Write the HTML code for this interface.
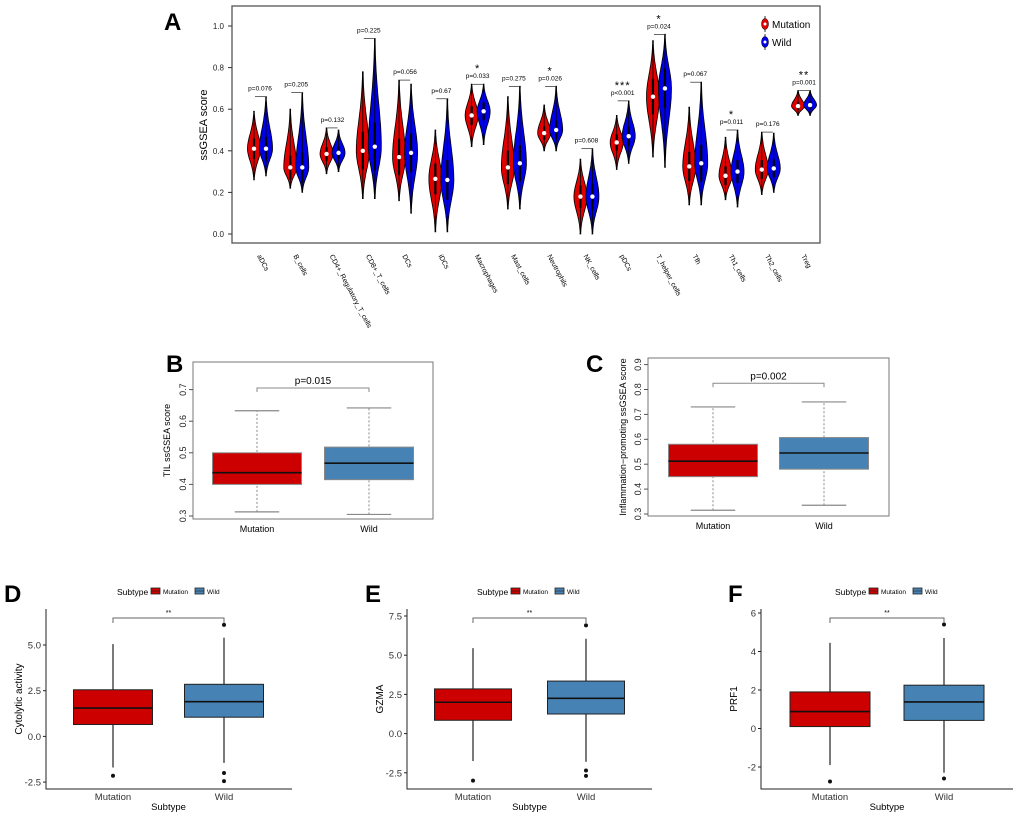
<!DOCTYPE html>
<html><head><meta charset="utf-8"><style>
body{margin:0;background:#fff}
svg{display:block;font-family:"Liberation Sans",Arial,sans-serif}
</style></head><body>
<svg id="fig" width="1020" height="816" viewBox="0 0 1020 816"></svg>
<script>
// ---------- Panel A data ----------
const cellTypes=["aDCs","B_cells","CD4+_Regulatory_T_cells","CD8+_T_cells","DCs","iDCs","Macrophages","Mast_cells","Neutrophils","NK_cells","pDCs","T_helper_cells","Tfh","Th1_cells","Th2_cells","Treg"];
const mutMin=[0.26,0.22,0.29,0.17,0.16,0.01,0.42,0.12,0.40,0.00,0.31,0.37,0.14,0.165,0.19,0.57];
const mutMax=[0.59,0.60,0.51,0.78,0.74,0.50,0.72,0.66,0.62,0.36,0.57,0.93,0.61,0.465,0.49,0.69];
const mutMed=[0.41,0.32,0.385,0.40,0.37,0.265,0.57,0.32,0.485,0.18,0.44,0.66,0.325,0.28,0.31,0.615];
const wildMin=[0.28,0.20,0.30,0.17,0.10,0.01,0.43,0.12,0.40,0.00,0.34,0.32,0.14,0.13,0.20,0.57];
const wildMax=[0.66,0.68,0.50,0.94,0.72,0.65,0.72,0.71,0.71,0.41,0.64,0.96,0.73,0.50,0.485,0.69];
const wildMed=[0.41,0.32,0.39,0.42,0.39,0.26,0.59,0.34,0.50,0.18,0.47,0.70,0.34,0.30,0.315,0.62];
const pLabels=["p=0.076","p=0.205","p=0.132","p=0.225","p=0.056","p=0.67","p=0.033","p=0.275","p=0.026","p=0.608","p<0.001","p=0.024","p=0.067","p=0.011","p=0.176","p=0.001"];
const sigStars=["","","","","","","*","","*","","***","*","","*","","**"];
const aTicks=[0,0.2,0.4,0.6,0.8,1.0];
// ---------- Panel B/C data ----------
const groups=["Mutation","Wild"];
const bStats=[[0.313,0.40,0.437,0.50,0.633],[0.305,0.415,0.467,0.518,0.642]];
const cStats=[[0.315,0.45,0.512,0.58,0.73],[0.335,0.48,0.545,0.607,0.75]];
const bTicks=[0.3,0.4,0.5,0.6,0.7];
const cTicks=[0.3,0.4,0.5,0.6,0.7,0.8,0.9];
// ---------- Panel D/E/F data ----------
const dStats=[[-1.7,0.65,1.55,2.55,5.05],[-1.45,1.05,1.9,2.85,5.4]];
const dOut=[[-2.15],[6.1,-2.0,-2.45]];
const eStats=[[-1.75,0.85,2.0,2.85,5.45],[-1.8,1.25,2.25,3.35,6.05]];
const eOut=[[-3.0],[6.9,-2.35,-2.7]];
const fStats=[[-1.9,0.1,0.88,1.9,4.45],[-2.3,0.42,1.38,2.25,4.7]];
const fOut=[[-2.75],[5.4,-2.6]];
const dTicks=[-2.5,0,2.5,5];const dTickLab=["-2.5","0.0","2.5","5.0"];
const eTicks=[-2.5,0,2.5,5,7.5];const eTickLab=["-2.5","0.0","2.5","5.0","7.5"];
const fTicks=[-2,0,2,4,6];const fTickLab=["-2","0","2","4","6"];

const NS="http://www.w3.org/2000/svg";const svg=document.getElementById('fig');
function mk(tag,attrs,parent,txt){const e=document.createElementNS(NS,tag);for(const k in attrs)e.setAttribute(k,attrs[k]);if(txt!==undefined)e.textContent=txt;(parent||svg).appendChild(e);return e;}
function lbl(t,x,y){const e=mk('text',{x:x,y:y,'font-size':24,'font-weight':'bold'},svg,t);}
const RED="#e00000",BLUE="#0000e6";

// ================= Panel A =================
lbl('A',164,30);
const aY=v=>234-v*208;const aX=i=>260+i*36.27;
let f=mk('rect',{x:232,y:6,width:588,height:237,fill:'none',stroke:'#555','stroke-width':1.3});

aTicks.forEach(t=>{const l=mk('line',{x1:228,x2:232,y1:aY(t),y2:aY(t),stroke:'#333'});
const tx=mk('text',{x:224,y:aY(t)+3,'font-size':8,'text-anchor':'end',fill:'#222'},svg,t.toFixed(1));});
let yl=mk('text',{x:0,y:0,'font-size':11,'text-anchor':'middle',transform:'translate(207,125) rotate(-90)'},svg,'ssGSEA score');
function violin(cx,mn,mx,md,col,name){
  const hw=6.5,pts=[],N=24;
  for(let k=0;k<=N;k++){const v=mn+(md-mn)*k/N;const u=k/N;pts.push([v,hw*Math.exp(-3.2*(1-u)*(1-u))]);}
  for(let k=1;k<=N;k++){const v=md+(mx-md)*k/N;const u=1-k/N;pts.push([v,hw*Math.exp(-3.2*(1-u)*(1-u))]);}
  pts[0][1]=0.4;pts[pts.length-1][1]=0.4;
  let d='M'+pts.map(p=>(cx+p[1]).toFixed(1)+','+aY(p[0]).toFixed(1)).join('L');
  d+='L'+pts.slice().reverse().map(p=>(cx-p[1]).toFixed(1)+','+aY(p[0]).toFixed(1)).join('L')+'Z';
  const p=mk('path',{d:d,fill:col,stroke:'#000','stroke-width':0.8});
  const l=mk('line',{x1:cx,x2:cx,y1:aY(mn),y2:aY(mx),stroke:'#000','stroke-width':0.8});
  const q=(mx-mn)*0.15;const b=mk('line',{x1:cx,x2:cx,y1:aY(md-q),y2:aY(md+q),stroke:'#000','stroke-width':2.2});
  const c=mk('circle',{cx:cx,cy:aY(md),r:2.2,fill:'#fff'});
}
cellTypes.forEach((ct,i)=>{
  const cx=aX(i);
  violin(cx-6,mutMin[i],mutMax[i],mutMed[i],RED,'violin-mutation-'+ct);
  violin(cx+6,wildMin[i],wildMax[i],wildMed[i],BLUE,'violin-wild-'+ct);
  const top=aY(Math.max(mutMax[i],wildMax[i]));
  const br=mk('line',{x1:cx-5,x2:cx+5,y1:top,y2:top,stroke:'#000','stroke-width':0.6});
  const pt=mk('text',{x:cx,y:top-6,'font-size':6.5,'text-anchor':'middle'},svg,pLabels[i]);
  if(sigStars[i]){const st=mk('text',{x:cx,y:top-12,'font-size':11,'text-anchor':'middle','letter-spacing':1},svg,sigStars[i]);}
  const xl=mk('text',{x:0,y:0,'font-size':7,transform:`translate(${cx-3},256) rotate(62)`},svg,ct);
});
[['Mutation',RED,24],['Wild',BLUE,42]].forEach(([t,c,y])=>{
  const g=mk('g',{});
  mk('line',{x1:765,x2:765,y1:y-8,y2:y+8,stroke:'#000','stroke-width':0.8},g);
  mk('ellipse',{cx:765,cy:y,rx:3.5,ry:5.5,fill:c,stroke:'#000','stroke-width':0.5},g);
  mk('circle',{cx:765,cy:y,r:1.5,fill:'#fff'},g);
  mk('text',{x:772,y:y+4,'font-size':10},g,t);
});

// ================= Panels B & C =================
function basePanel(o){
  lbl(o.L,o.lx,o.ly);
  const Y=v=>o.y0-(v-o.v0)*o.k;
  const fr=mk('rect',{x:o.fx,y:o.fy,width:o.fw,height:o.fh,fill:'none',stroke:'#777','stroke-width':1});
  o.ticks.forEach(t=>{const l=mk('line',{x1:o.fx-4,x2:o.fx,y1:Y(t),y2:Y(t),stroke:'#555'});
    const tx=mk('text',{x:0,y:0,'font-size':9,'text-anchor':'middle',fill:'#222',transform:`translate(${o.fx-7},${Y(t)}) rotate(-90)`},svg,t.toFixed(1));});
  const yt=mk('text',{x:0,y:0,'font-size':9,'text-anchor':'middle',transform:`translate(${o.ytx},${o.fy+o.fh/2}) rotate(-90)`},svg,o.ytitle);
  o.stats.forEach((s,i)=>{
    const cx=o.cx[i],hw=o.bw/2,col=i?'#4682b4':'#cc0000';
    const g=mk('g',{});
    mk('line',{x1:cx,x2:cx,y1:Y(s[0]),y2:Y(s[4]),stroke:'#888','stroke-dasharray':'2,2'},g);
    mk('line',{x1:cx-hw/2,x2:cx+hw/2,y1:Y(s[0]),y2:Y(s[0]),stroke:'#888','stroke-width':1.2},g);
    mk('line',{x1:cx-hw/2,x2:cx+hw/2,y1:Y(s[4]),y2:Y(s[4]),stroke:'#888','stroke-width':1.2},g);
    mk('rect',{x:cx-hw,y:Y(s[3]),width:o.bw,height:Y(s[1])-Y(s[3]),fill:col,stroke:'#888'},g);
    mk('line',{x1:cx-hw,x2:cx+hw,y1:Y(s[2]),y2:Y(s[2]),stroke:'#111','stroke-width':1.6},g);
    const xt=mk('text',{x:cx,y:o.fy+o.fh+13,'font-size':9,'text-anchor':'middle'},svg,groups[i]);
  });
  const by=Y(o.br);
  const b=mk('path',{d:`M${o.cx[0]},${by+4}V${by}H${o.cx[1]}V${by+4}`,fill:'none',stroke:'#888'});
  const pt=mk('text',{x:(o.cx[0]+o.cx[1])/2,y:by-4,'font-size':10,'text-anchor':'middle'},svg,o.p);
}
basePanel({L:'B',lx:166,ly:372,fx:193,fy:362,fw:240,fh:157,y0:516,v0:0.3,k:316,ticks:bTicks,ytx:170,ytitle:'TIL ssGSEA score',stats:bStats,cx:[257,369],bw:89,br:0.705,p:'p=0.015'});
basePanel({L:'C',lx:586,ly:372,fx:648,fy:358,fw:241,fh:158,y0:514,v0:0.3,k:249,ticks:cTicks,ytx:626,ytitle:'Inflammation\u2212promoting ssGSEA score',stats:cStats,cx:[713,824],bw:89,br:0.825,p:'p=0.002'});

// ================= Panels D, E, F =================
function ggPanel(o){
  lbl(o.L,o.lx,602);
  const Y=v=>o.y0-(v-o.v0)*o.k;
  const ax=mk('path',{d:`M${o.ax},609V789H${o.ar}`,fill:'none',stroke:'#222','stroke-width':1});
  o.ticks.forEach((t,j)=>{const l=mk('line',{x1:o.ax-3,x2:o.ax,y1:Y(t),y2:Y(t),stroke:'#222'});
    const tx=mk('text',{x:o.ax-5,y:Y(t)+3.5,'font-size':9.5,'text-anchor':'end',fill:'#333'},svg,o.tlab[j]);});
  const yt=mk('text',{x:0,y:0,'font-size':10,'text-anchor':'middle',transform:`translate(${o.ax-24},699) rotate(-90)`},svg,o.ytitle);
  o.stats.forEach((s,i)=>{
    const cx=o.cx[i],hw=o.bw/2,col=i?'#4682b4':'#cd0000';
    const g=mk('g',{});
    mk('line',{x1:cx,x2:cx,y1:Y(s[0]),y2:Y(s[4]),stroke:'#222','stroke-width':1.2},g);
    mk('rect',{x:cx-hw,y:Y(s[3]),width:o.bw,height:Y(s[1])-Y(s[3]),fill:col,stroke:'#222','stroke-width':1},g);
    mk('line',{x1:cx-hw,x2:cx+hw,y1:Y(s[2]),y2:Y(s[2]),stroke:'#111','stroke-width':1.6},g);
    o.out[i].forEach(v=>{const c=mk('circle',{cx:cx,cy:Y(v),r:2,fill:'#111'},g);});
    const xt=mk('text',{x:cx,y:800,'font-size':9.5,'text-anchor':'middle',fill:'#333'},svg,groups[i]);
  });
  const xtt=mk('text',{x:(o.cx[0]+o.cx[1])/2,y:810,'font-size':9.5,'text-anchor':'middle'},svg,'Subtype');
  const by=618;
  const b=mk('path',{d:`M${o.cx[0]},${by+5}V${by}H${o.cx[1]}V${by+5}`,fill:'none',stroke:'#666'});
  const st=mk('text',{x:(o.cx[0]+o.cx[1])/2,y:by-3,'font-size':7,'text-anchor':'middle'},svg,'**');
  const lg=mk('g',{});
  const lx=o.lgx;
  mk('text',{x:lx,y:595,'font-size':8.5},lg,'Subtype');
  [[lx+34,'#cd0000','Mutation'],[lx+78,'#4682b4','Wild']].forEach(([x,c,t])=>{
    mk('rect',{x:x,y:588,width:9,height:6,fill:c,stroke:'#222','stroke-width':0.8},lg);
    mk('line',{x1:x,x2:x+9,y1:591,y2:591,stroke:'#222','stroke-width':0.6},lg);
    mk('text',{x:x+12,y:594,'font-size':6.5},lg,t);
  });
}
ggPanel({L:'D',lx:4,ax:46,ar:292,y0:645,v0:5,k:18.28,ticks:dTicks,tlab:dTickLab,ytitle:'Cytolytic activity',stats:dStats,out:dOut,cx:[113,224],bw:79,lgx:117});
ggPanel({L:'E',lx:365,ax:407,ar:652,y0:616,v0:7.5,k:15.68,ticks:eTicks,tlab:eTickLab,ytitle:'GZMA',stats:eStats,out:eOut,cx:[473,586],bw:77,lgx:477});
ggPanel({L:'F',lx:728,ax:761,ar:1013,y0:613,v0:6,k:19.25,ticks:fTicks,tlab:fTickLab,ytitle:'PRF1',stats:fStats,out:fOut,cx:[830,944],bw:80,lgx:835});
</script>
</body></html>
